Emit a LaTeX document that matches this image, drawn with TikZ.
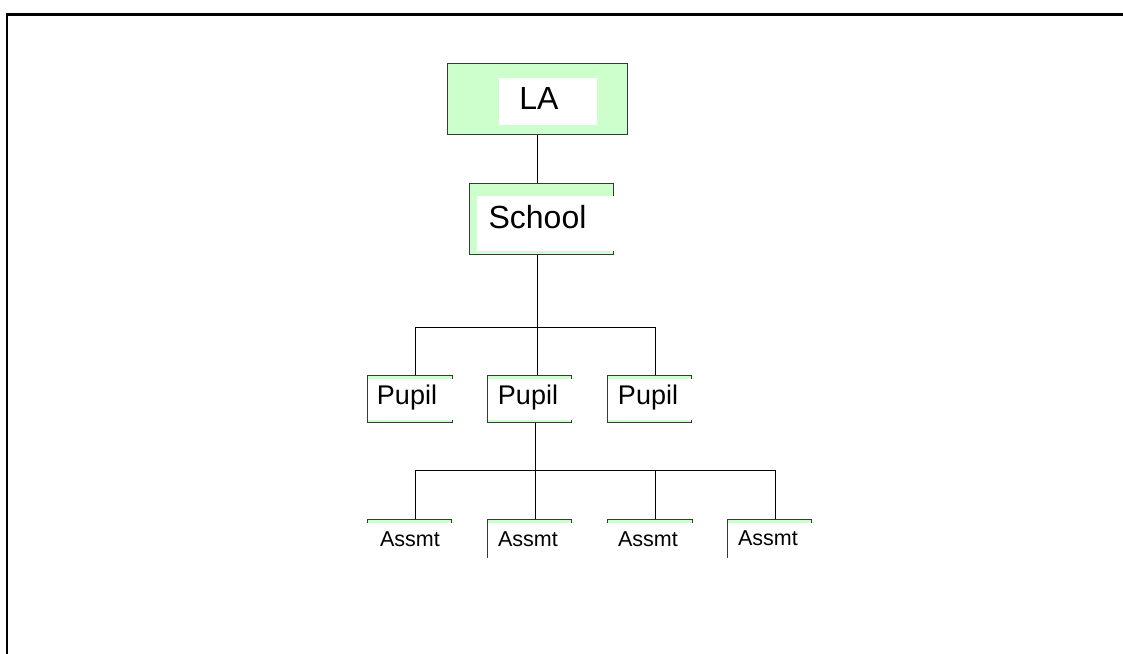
\documentclass[tikz,border=0pt]{standalone}
\usepackage{fontspec}
\setmainfont{Liberation Sans}
\definecolor{lgreen}{HTML}{CCFFCC}
\definecolor{boxline}{HTML}{383838}
\begin{document}
\begin{tikzpicture}[x=1pt,y=-1pt]
\tikzset{
  gbox/.style={draw=boxline, fill=lgreen, line width=1.4pt, inner sep=0pt, anchor=north west},
  conn/.style={draw=black, line width=1pt},
  mask/.style={fill=white},
  bigtxt/.style={inner sep=0pt, font=\fontsize{32}{38}\selectfont},
  midtxt/.style={inner sep=0pt, font=\fontsize{27}{32}\selectfont},
  smalltxt/.style={inner sep=0pt, font=\fontsize{21.5}{26}\selectfont},
}
\useasboundingbox (0,0) rectangle (1123,653);
\fill[white] (0,0) rectangle (1123,653);
\draw[line width=2.2pt] (7,654) -- (7,14.5) -- (1124,14.5);

% boxes
\node[gbox, minimum width=180pt, minimum height=71pt] (la) at (447,63) {};
\node[gbox, minimum width=144pt, minimum height=71pt] (school) at (469,183) {};
\node[gbox, minimum width=85pt, minimum height=47pt] (p1) at (367,375) {};
\node[gbox, minimum width=84pt, minimum height=47pt] (p2) at (487,375) {};
\node[gbox, minimum width=84pt, minimum height=47pt] (p3) at (607,375) {};
\node[gbox, minimum width=84pt, minimum height=38pt] (a1) at (367,519) {};
\node[gbox, minimum width=84pt, minimum height=38pt] (a2) at (487,519) {};
\node[gbox, minimum width=85pt, minimum height=38pt] (a3) at (607,519) {};
\node[gbox, minimum width=84pt, minimum height=38pt] (a4) at (727,519) {};

% white inner areas
\fill[mask] (499,78) rectangle (597,125);
\fill[mask] (477,196) rectangle (616,251);
\fill[mask] (368,379) rectangle (454,419.5);
\fill[mask] (488,379) rectangle (574,419.5);
\fill[mask] (608,379) rectangle (694,419.5);
\fill[mask] (365,522.5) rectangle (454,560);
\fill[mask] (488,522.5) rectangle (574,560);
\fill[mask] (605,522.5) rectangle (695,560);
\fill[mask] (728,522.5) rectangle (814,560);

% junctions
\coordinate (j1) at (537,327);
\coordinate (j1l) at (415,327);
\coordinate (j1r) at (655,327);
\coordinate (j2) at (535,470);
\coordinate (j2a) at (415,470);
\coordinate (j2c) at (655,470);
\coordinate (j2d) at (775,470);

% connectors
\draw[conn] (la.south -| j1) -- (school.north -| j1);
\draw[conn] (school.south -| j1) -- (j1);
\draw[conn] (j1l) -- (j1r);
\draw[conn] (j1l) -- (j1l |- p1.north);
\draw[conn] (j1) -- (j1 |- p2.north);
\draw[conn] (j1r) -- (j1r |- p3.north);
\draw[conn] (p2.south -| j2) -- (j2);
\draw[conn] (j2a) -- (j2d);
\draw[conn] (j2a) -- (j2a |- a1.north);
\draw[conn] (j2) -- (j2 |- a2.north);
\draw[conn] (j2c) -- (j2c |- a3.north);
\draw[conn] (j2d) -- (j2d |- a4.north);

% labels
\node[bigtxt] (latxt) at (539,98) {LA};
\node[bigtxt] (schooltxt) at (537.5,217) {School};
\node[midtxt] (p1txt) at (407,398) {Pupil};
\node[midtxt] (p2txt) at (528,398) {Pupil};
\node[midtxt] (p3txt) at (648,398) {Pupil};
\node[smalltxt] (a1txt) at (410,539) {Assmt};
\node[smalltxt] (a2txt) at (528,539) {Assmt};
\node[smalltxt] (a3txt) at (648,539) {Assmt};
\node[smalltxt] (a4txt) at (768,538) {Assmt};
\end{tikzpicture}
\end{document}
